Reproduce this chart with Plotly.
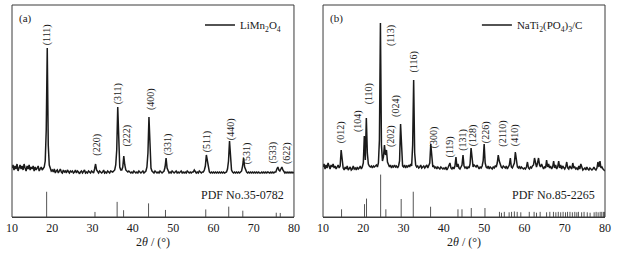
import plotly.graph_objects as go

# ---------------- data ----------------
# XRD profiles sampled every 0.25 deg starting at 10 deg (intensity, a.u.)
lmo_start, lmo_step = 10.0, 0.25
lmo_intensity = [
    7, 10, 5, 9, 6, 11, 4, 8, 10, 6, 9, 5, 11, 7, 4, 9, 6, 10, 5, 8,
    6, 9, 4, 8, 5, 7, 9, 4, 6, 8, 5, 7, 8, 14, 45, 127, 30, 10, 6, 4,
    5, 3, 6, 2, 4, 5, 2, 4, 6, 3, 2, 5, 3, 4, 2, 5, 3, 2, 4, 3,
    4, 2, 3, 5, 2, 4, 3, 1, 3, 4, 2, 3, 5, 2, 3, 2, 4, 3, 2, 4,
    3, 2, 6, 11, 5, 3, 2, 4, 3, 2, 3, 5, 2, 3, 2, 4, 3, 2, 4, 3,
    3, 4, 5, 10, 25, 68, 20, 8, 5, 5, 8, 19, 10, 5, 4, 3, 4, 3, 2, 3,
    2, 4, 3, 2, 3, 2, 4, 3, 2, 3, 4, 2, 3, 4, 8, 22, 58, 18, 7, 4,
    3, 2, 4, 3, 2, 3, 2, 4, 3, 2, 3, 4, 8, 17, 7, 3, 2, 3, 2, 4,
    3, 2, 3, 4, 2, 3, 2, 3, 4, 2, 3, 2, 3, 2, 4, 3, 2, 3, 2, 3,
    3, 5, 3, 2, 3, 2, 4, 3, 2, 3, 3, 5, 9, 20, 14, 6, 3, 2, 3, 2,
    3, 2, 3, 2, 3, 2, 3, 2, 3, 2, 3, 2, 3, 3, 6, 14, 34, 12, 5, 3,
    2, 3, 2, 3, 2, 3, 2, 3, 4, 9, 17, 8, 4, 3, 2, 3, 2, 3, 2, 3,
    2, 3, 2, 3, 2, 3, 2, 2, 3, 2, 3, 2, 3, 2, 3, 2, 2, 3, 2, 3,
    2, 3, 3, 6, 8, 5, 4, 6, 8, 5, 3, 2, 3, 2, 3, 2, 3, 2, 3, 2,
    3,
]
ntp_start, ntp_step = 10.0, 0.25
ntp_intensity = [
    8, 11, 6, 10, 7, 12, 9, 6, 10, 8, 11, 7, 9, 6, 8, 10, 7, 9, 25, 11,
    7, 5, 8, 6, 9, 5, 7, 8, 5, 6, 9, 6, 7, 5, 8, 6, 7, 9, 6, 8,
    12, 39, 15, 57, 22, 11, 9, 8, 9, 7, 9, 8, 9, 10, 8, 12, 35, 152, 30, 14,
    18, 30, 20, 25, 13, 9, 8, 10, 7, 9, 8, 10, 8, 9, 7, 9, 14, 51, 20, 9,
    8, 10, 7, 9, 8, 10, 8, 11, 9, 30, 95, 22, 10, 8, 9, 7, 8, 10, 7, 8,
    9, 7, 8, 10, 7, 9, 12, 31, 14, 8, 9, 7, 8, 6, 8, 7, 6, 8, 7, 6,
    7, 6, 8, 5, 7, 9, 12, 7, 6, 8, 6, 9, 18, 8, 11, 7, 6, 8, 10, 20,
    9, 7, 8, 6, 8, 7, 11, 27, 12, 8, 10, 9, 8, 10, 7, 6, 8, 7, 9, 14,
    31, 12, 8, 7, 9, 6, 8, 7, 6, 8, 7, 9, 8, 12, 20, 14, 10, 8, 7, 9,
    8, 7, 9, 6, 8, 10, 17, 8, 7, 9, 12, 23, 12, 8, 7, 9, 6, 8, 7, 6,
    7, 6, 8, 13, 7, 6, 8, 7, 9, 10, 17, 11, 8, 12, 17, 10, 8, 11, 7, 6,
    8, 7, 15, 8, 11, 7, 9, 6, 8, 14, 7, 10, 6, 8, 14, 7, 10, 6, 9, 7,
    6, 8, 13, 7, 6, 9, 7, 6, 12, 7, 8, 6, 7, 5, 9, 6, 11, 7, 5, 6,
    7, 5, 8, 6, 5, 7, 6, 5, 6, 8, 6, 5, 7, 13, 8, 14, 7, 8, 6, 5,
    4,
]

# Reference (PDF) stick patterns: 2theta and relative intensity
lmo_pdf_2theta = [18.6, 30.6, 36.1, 37.7, 43.9, 48.1, 58.1, 63.8, 67.3, 75.6, 76.6]
lmo_pdf_int = [100, 20, 60, 27, 54, 28, 30, 41, 25, 17, 16]

ntp_pdf_2theta = [14.6, 20.3, 20.8, 24.3, 25.6, 29.4, 32.4, 36.7, 43.5, 44.5, 46.8, 50.2,
                  53.8, 54.3, 55.0, 56.2, 56.8, 57.5, 58.2, 59.1, 61.2, 62.4, 63.0, 63.9,
                  65.5, 66.3, 67.2, 67.8, 68.4, 69.0, 69.6, 70.2, 70.7, 71.3, 71.9, 72.5,
                  73.0, 73.4, 74.2, 74.8, 75.6, 76.3, 77.3, 77.8, 78.3, 78.8, 79.2, 79.6, 79.9]
ntp_pdf_int = [18, 30, 43, 100, 18, 42, 59, 24, 18, 18, 21, 21,
               12, 10, 12, 11, 12, 13, 12, 11, 12, 12, 10, 12,
               11, 12, 12, 11, 12, 11, 12, 11, 12, 12, 11, 12,
               11, 12, 11, 12, 11, 10, 11, 12, 11, 12, 12, 12, 12]

# Miller index labels (text, 2theta anchor, intensity anchor)
lmo_hkl = ["(111)", "(220)", "(311)", "(222)", "(400)", "(331)", "(511)", "(440)", "(531)", "(533)", "(622)"]
lmo_hkl_x = [18.76, 30.9, 36.4, 38.3, 44.4, 48.8, 58.3, 64.4, 68.4, 74.7, 78.3]
lmo_hkl_y = [140, 30.5, 81, 39.5, 75.5, 31, 33.3, 46, 22, 22, 22]

ntp_hkl = ["(012)", "(104)", "(110)", "(113)", "(202)", "(024)", "(116)", "(300)",
           "(119)", "(131)", "(128)", "(226)", "(2110)", "(410)"]
ntp_hkl_x = [14.5, 18.7, 21.5, 26.9, 26.9, 28.1, 32.7, 37.6, 41.5, 44.7, 47.3, 50.5, 54.6, 57.7]
ntp_hkl_y = [43, 54, 81, 139, 39, 69, 113, 38, 28.3, 35, 40, 43, 41, 40]

sample_names = ["LiMn<sub>2</sub>O<sub>4</sub>", "NaTi<sub>2</sub>(PO<sub>4</sub>)<sub>3</sub>/C"]
pdf_cards = ["PDF No.35-0782", "PDF No.85-2265"]
panel_tags = ["(a)", "(b)"]
x_ticks = [10, 20, 30, 40, 50, 60, 70, 80]

# ---------------- figure ----------------
SERIF = "Liberation Serif, Times New Roman, serif"
INK = "#1a1a1a"
FRAME = "#3a3a3a"

fig = go.Figure()


def sticks(xs, hs):
    sx, sy = [], []
    for x, h in zip(xs, hs):
        sx += [x, x, None]
        sy += [0, h, None]
    return sx, sy


panels = [
    dict(xa="x", ya="y", yp="y2", start=lmo_start, step=lmo_step, inten=lmo_intensity,
         px=lmo_pdf_2theta, ph=lmo_pdf_int, hkl=lmo_hkl, hx=lmo_hkl_x, hy=lmo_hkl_y, legend="legend"),
    dict(xa="x2", ya="y3", yp="y4", start=ntp_start, step=ntp_step, inten=ntp_intensity,
         px=ntp_pdf_2theta, ph=ntp_pdf_int, hkl=ntp_hkl, hx=ntp_hkl_x, hy=ntp_hkl_y, legend="legend2"),
]

for i, p in enumerate(panels):
    fig.add_trace(go.Scatter(
        x0=p["start"], dx=p["step"], y=p["inten"], mode="lines",
        line=dict(color=INK, width=1.5), name=sample_names[i],
        xaxis=p["xa"], yaxis=p["ya"], legend=p["legend"], showlegend=True,
    ))
    sx, sy = sticks(p["px"], p["ph"])
    fig.add_trace(go.Scatter(
        x=sx, y=sy, mode="lines", line=dict(color="#555555", width=1),
        xaxis=p["xa"], yaxis=p["yp"], showlegend=False, hoverinfo="skip",
    ))
    for t, hx, hy in zip(p["hkl"], p["hx"], p["hy"]):
        fig.add_annotation(x=hx, y=hy, xref=p["xa"], yref=p["ya"], text=t, textangle=-90,
                           showarrow=False, font=dict(family=SERIF, size=10, color=INK))
    fig.add_annotation(x=0.972, y=0.104, xref=p["xa"] + " domain", yref=p["ya"] + " domain",
                       text=pdf_cards[i], showarrow=False, xanchor="right", yanchor="middle",
                       font=dict(family=SERIF, size=12, color=INK))
    fig.add_annotation(x=0.019, y=0.937, xref=p["xa"] + " domain", yref=p["ya"] + " domain",
                       text=panel_tags[i], showarrow=False, xanchor="left", yanchor="middle",
                       font=dict(family=SERIF, size=11, color=INK))
    fig.add_shape(type="rect", xref=p["xa"] + " domain", yref=p["ya"] + " domain",
                  x0=0, x1=1, y0=0, y1=1, line=dict(color=FRAME, width=1))

xaxis_common = dict(
    range=[10, 80], tickvals=x_ticks, ticks="inside", ticklen=4, tickcolor=FRAME,
    showline=True, linecolor=FRAME, linewidth=1, showgrid=False, zeroline=False,
    minor=dict(ticks="inside", ticklen=2, dtick=5, tick0=5, tickcolor=FRAME, showgrid=False),
    tickfont=dict(family=SERIF, size=12, color=INK),
    title=dict(text="2<i>θ</i> / (°)", font=dict(family=SERIF, size=12, color=INK), standoff=2),
)
yaxis_hidden = dict(visible=False, showgrid=False, zeroline=False, fixedrange=True)

fig.update_layout(
    width=622, height=253,
    margin=dict(l=12, r=17, t=5, b=36),
    paper_bgcolor="white", plot_bgcolor="white",
    xaxis=dict(domain=[0, 0.4755], anchor="y", **xaxis_common),
    xaxis2=dict(domain=[0.5245, 1], anchor="y3", **xaxis_common),
    yaxis=dict(domain=[0, 1], range=[-42, 170], anchor="x", **yaxis_hidden),
    yaxis2=dict(domain=[0, 0.2], range=[0, 168], anchor="x", **yaxis_hidden),
    yaxis3=dict(domain=[0, 1], range=[-42, 170], anchor="x2", **yaxis_hidden),
    yaxis4=dict(domain=[0, 0.2], range=[0, 99], anchor="x2", **yaxis_hidden),
    legend=dict(x=0.317, y=0.906, xanchor="left", yanchor="middle", bgcolor="rgba(0,0,0,0)",
                font=dict(family=SERIF, size=11, color=INK), borderwidth=0),
    legend2=dict(x=0.784, y=0.906, xanchor="left", yanchor="middle", bgcolor="rgba(0,0,0,0)",
                 font=dict(family=SERIF, size=11, color=INK), borderwidth=0),
    showlegend=True,
)

fig.write_html(
    "out.html",
    config={"displayModeBar": False},
    post_script="document.body.style.margin='0';document.body.style.overflow='hidden';",
)
